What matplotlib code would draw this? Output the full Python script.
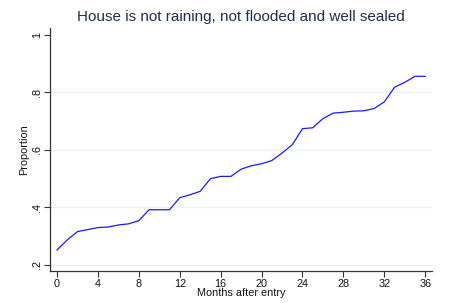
import matplotlib
matplotlib.use("Agg")
import matplotlib.pyplot as plt

plt.rcParams['font.family'] = ['Liberation Sans', 'DejaVu Sans']

months = list(range(0, 37))
proportion = [0.251, 0.286, 0.315, 0.322, 0.329, 0.331, 0.338, 0.342, 0.353,
              0.391, 0.391, 0.391, 0.433, 0.443, 0.455, 0.499, 0.507, 0.507,
              0.532, 0.544, 0.551, 0.562, 0.588, 0.617, 0.673, 0.676, 0.708,
              0.727, 0.730, 0.734, 0.735, 0.743, 0.766, 0.817, 0.834, 0.855,
              0.855]

x_ticks = list(range(0, 37, 4))
y_ticks = [0.2, 0.4, 0.6, 0.8, 1.0]
y_tick_labels = ['.2', '.4', '.6', '.8', '1']

fig = plt.figure(figsize=(4.49, 3.03), dpi=100)
ax = fig.add_axes([0.1114, 0.1056, 0.8507, 0.802])

# light grid lines, but not at the top value
for yv in y_ticks[:-1]:
    ax.axhline(yv, color='#eaf2f3', lw=0.9, zorder=0)

ax.plot(months, proportion, color='#1a1aff', lw=0.9)

ax.set_xlim(-0.684, 36.66)
ax.set_ylim(0.178, 1.023)
ax.set_xticks(x_ticks)
ax.set_yticks(y_ticks)
ax.set_yticklabels(y_tick_labels, rotation=90, va='center')

for side in ['top', 'right']:
    ax.spines[side].set_visible(False)
for side in ['left', 'bottom']:
    ax.spines[side].set_color('#333333')
    ax.spines[side].set_linewidth(0.9)

ax.tick_params(axis='both', length=4, width=0.8, color='#333333',
               labelsize=7.8, pad=2, labelcolor='#111111')

ax.set_xlabel('Months after entry', fontsize=7.8, labelpad=-1, color='#111111')
ax.set_ylabel('Proportion', fontsize=7.8, labelpad=2, color='#111111')
ax.set_title('House is not raining, not flooded and well sealed',
             fontsize=11, color='#1e2d50', pad=5)

fig.savefig('out.png', dpi=100)
